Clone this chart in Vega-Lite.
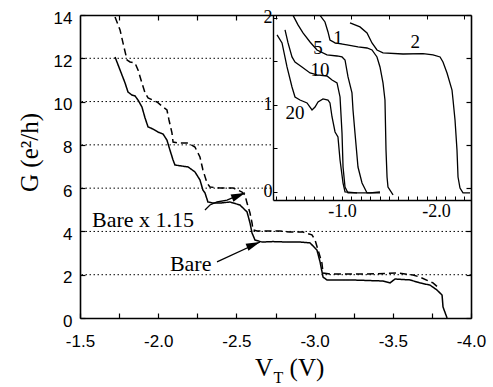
{
  "$schema": "https://vega.github.io/schema/vega-lite/v6.json",
  "width": 391,
  "height": 303,
  "autosize": "none",
  "padding": {"left": 80, "top": 15, "right": 22, "bottom": 69},
  "config": {"view": {"stroke": null}, "axis": {"labelOverlap": false}},
  "datasets": {
    "grid": [{"g": 2}, {"g": 4}, {"g": 6}, {"g": 8}, {"g": 10}, {"g": 12}],
    "main": [
      {"s": "Bare", "vt": -1.724, "g": 12.06},
      {"s": "Bare", "vt": -1.756, "g": 11.46},
      {"s": "Bare", "vt": -1.788, "g": 10.86},
      {"s": "Bare", "vt": -1.807, "g": 10.44},
      {"s": "Bare", "vt": -1.832, "g": 10.30},
      {"s": "Bare", "vt": -1.852, "g": 10.26},
      {"s": "Bare", "vt": -1.871, "g": 10.07},
      {"s": "Bare", "vt": -1.896, "g": 9.75},
      {"s": "Bare", "vt": -1.916, "g": 9.24},
      {"s": "Bare", "vt": -1.935, "g": 8.83},
      {"s": "Bare", "vt": -1.967, "g": 8.73},
      {"s": "Bare", "vt": -1.999, "g": 8.59},
      {"s": "Bare", "vt": -2.031, "g": 8.50},
      {"s": "Bare", "vt": -2.056, "g": 8.22},
      {"s": "Bare", "vt": -2.075, "g": 7.76},
      {"s": "Bare", "vt": -2.095, "g": 7.30},
      {"s": "Bare", "vt": -2.107, "g": 7.07},
      {"s": "Bare", "vt": -2.152, "g": 7.02},
      {"s": "Bare", "vt": -2.191, "g": 6.98},
      {"s": "Bare", "vt": -2.235, "g": 6.75},
      {"s": "Bare", "vt": -2.267, "g": 6.38},
      {"s": "Bare", "vt": -2.286, "g": 5.91},
      {"s": "Bare", "vt": -2.299, "g": 5.78},
      {"s": "Bare", "vt": -2.318, "g": 5.36},
      {"s": "Bare", "vt": -2.350, "g": 5.31},
      {"s": "Bare", "vt": -2.395, "g": 5.31},
      {"s": "Bare", "vt": -2.459, "g": 5.36},
      {"s": "Bare", "vt": -2.523, "g": 5.22},
      {"s": "Bare", "vt": -2.568, "g": 4.90},
      {"s": "Bare", "vt": -2.587, "g": 4.39},
      {"s": "Bare", "vt": -2.600, "g": 3.93},
      {"s": "Bare", "vt": -2.619, "g": 3.60},
      {"s": "Bare", "vt": -2.664, "g": 3.51},
      {"s": "Bare", "vt": -2.734, "g": 3.53},
      {"s": "Bare", "vt": -2.824, "g": 3.51},
      {"s": "Bare", "vt": -2.907, "g": 3.51},
      {"s": "Bare", "vt": -2.971, "g": 3.47},
      {"s": "Bare", "vt": -3.015, "g": 3.14},
      {"s": "Bare", "vt": -3.035, "g": 2.59},
      {"s": "Bare", "vt": -3.054, "g": 1.89},
      {"s": "Bare", "vt": -3.079, "g": 1.76},
      {"s": "Bare", "vt": -3.226, "g": 1.76},
      {"s": "Bare", "vt": -3.437, "g": 1.71},
      {"s": "Bare", "vt": -3.482, "g": 1.62},
      {"s": "Bare", "vt": -3.514, "g": 1.80},
      {"s": "Bare", "vt": -3.610, "g": 1.76},
      {"s": "Bare", "vt": -3.674, "g": 1.62},
      {"s": "Bare", "vt": -3.738, "g": 1.52},
      {"s": "Bare", "vt": -3.783, "g": 1.29},
      {"s": "Bare", "vt": -3.815, "g": 1.06},
      {"s": "Bare", "vt": -3.821, "g": 0.51},
      {"s": "Bare", "vt": -3.847, "g": 0.0},
      {"s": "Bare x 1.15", "vt": -1.724, "g": 13.91},
      {"s": "Bare x 1.15", "vt": -1.756, "g": 13.31},
      {"s": "Bare x 1.15", "vt": -1.781, "g": 12.52},
      {"s": "Bare x 1.15", "vt": -1.801, "g": 11.92},
      {"s": "Bare x 1.15", "vt": -1.820, "g": 11.83},
      {"s": "Bare x 1.15", "vt": -1.852, "g": 11.78},
      {"s": "Bare x 1.15", "vt": -1.871, "g": 11.46},
      {"s": "Bare x 1.15", "vt": -1.896, "g": 10.86},
      {"s": "Bare x 1.15", "vt": -1.916, "g": 10.40},
      {"s": "Bare x 1.15", "vt": -1.935, "g": 10.17},
      {"s": "Bare x 1.15", "vt": -1.992, "g": 9.98},
      {"s": "Bare x 1.15", "vt": -2.031, "g": 9.75},
      {"s": "Bare x 1.15", "vt": -2.056, "g": 9.61},
      {"s": "Bare x 1.15", "vt": -2.069, "g": 9.15},
      {"s": "Bare x 1.15", "vt": -2.088, "g": 8.55},
      {"s": "Bare x 1.15", "vt": -2.095, "g": 8.13},
      {"s": "Bare x 1.15", "vt": -2.127, "g": 8.09},
      {"s": "Bare x 1.15", "vt": -2.191, "g": 8.09},
      {"s": "Bare x 1.15", "vt": -2.235, "g": 7.90},
      {"s": "Bare x 1.15", "vt": -2.267, "g": 7.44},
      {"s": "Bare x 1.15", "vt": -2.286, "g": 6.84},
      {"s": "Bare x 1.15", "vt": -2.312, "g": 6.24},
      {"s": "Bare x 1.15", "vt": -2.331, "g": 6.05},
      {"s": "Bare x 1.15", "vt": -2.395, "g": 6.01},
      {"s": "Bare x 1.15", "vt": -2.478, "g": 6.01},
      {"s": "Bare x 1.15", "vt": -2.536, "g": 5.82},
      {"s": "Bare x 1.15", "vt": -2.555, "g": 5.68},
      {"s": "Bare x 1.15", "vt": -2.568, "g": 5.31},
      {"s": "Bare x 1.15", "vt": -2.587, "g": 4.85},
      {"s": "Bare x 1.15", "vt": -2.600, "g": 4.39},
      {"s": "Bare x 1.15", "vt": -2.606, "g": 4.07},
      {"s": "Bare x 1.15", "vt": -2.632, "g": 4.02},
      {"s": "Bare x 1.15", "vt": -2.715, "g": 4.02},
      {"s": "Bare x 1.15", "vt": -2.779, "g": 4.02},
      {"s": "Bare x 1.15", "vt": -2.843, "g": 3.97},
      {"s": "Bare x 1.15", "vt": -2.926, "g": 3.97},
      {"s": "Bare x 1.15", "vt": -2.983, "g": 3.84},
      {"s": "Bare x 1.15", "vt": -3.003, "g": 3.60},
      {"s": "Bare x 1.15", "vt": -3.022, "g": 3.14},
      {"s": "Bare x 1.15", "vt": -3.047, "g": 2.54},
      {"s": "Bare x 1.15", "vt": -3.054, "g": 2.08},
      {"s": "Bare x 1.15", "vt": -3.098, "g": 2.03},
      {"s": "Bare x 1.15", "vt": -3.335, "g": 2.03},
      {"s": "Bare x 1.15", "vt": -3.527, "g": 2.08},
      {"s": "Bare x 1.15", "vt": -3.629, "g": 1.99},
      {"s": "Bare x 1.15", "vt": -3.674, "g": 1.89},
      {"s": "Bare x 1.15", "vt": -3.757, "g": 1.62},
      {"s": "Bare x 1.15", "vt": -3.802, "g": 1.34}
    ],
    "inset": [
      {"c": "20", "vi": -0.309, "gi": 1.805},
      {"c": "20", "vi": -0.362, "gi": 1.713},
      {"c": "20", "vi": -0.415, "gi": 1.437},
      {"c": "20", "vi": -0.468, "gi": 1.207},
      {"c": "20", "vi": -0.500, "gi": 1.092},
      {"c": "20", "vi": -0.553, "gi": 1.057},
      {"c": "20", "vi": -0.628, "gi": 1.023},
      {"c": "20", "vi": -0.681, "gi": 0.943},
      {"c": "20", "vi": -0.713, "gi": 0.977},
      {"c": "20", "vi": -0.745, "gi": 1.034},
      {"c": "20", "vi": -0.798, "gi": 1.069},
      {"c": "20", "vi": -0.851, "gi": 1.057},
      {"c": "20", "vi": -0.872, "gi": 1.023},
      {"c": "20", "vi": -0.894, "gi": 0.862},
      {"c": "20", "vi": -0.926, "gi": 0.690},
      {"c": "20", "vi": -0.957, "gi": 0.632},
      {"c": "20", "vi": -0.979, "gi": 0.368},
      {"c": "20", "vi": -1.011, "gi": 0.103},
      {"c": "20", "vi": -1.032, "gi": 0.0},
      {"c": "20", "vi": -1.160, "gi": -0.011},
      {"c": "10", "vi": -0.394, "gi": 1.862},
      {"c": "10", "vi": -0.426, "gi": 1.713},
      {"c": "10", "vi": -0.468, "gi": 1.552},
      {"c": "10", "vi": -0.500, "gi": 1.494},
      {"c": "10", "vi": -0.574, "gi": 1.437},
      {"c": "10", "vi": -0.660, "gi": 1.368},
      {"c": "10", "vi": -0.734, "gi": 1.345},
      {"c": "10", "vi": -0.840, "gi": 1.333},
      {"c": "10", "vi": -0.894, "gi": 1.287},
      {"c": "10", "vi": -0.947, "gi": 1.253},
      {"c": "10", "vi": -0.979, "gi": 1.092},
      {"c": "10", "vi": -1.000, "gi": 0.678},
      {"c": "10", "vi": -1.011, "gi": 0.287},
      {"c": "10", "vi": -1.032, "gi": 0.057},
      {"c": "10", "vi": -1.064, "gi": -0.011},
      {"c": "10", "vi": -1.298, "gi": -0.011},
      {"c": "10", "vi": -1.404, "gi": 0.0},
      {"c": "5", "vi": -0.479, "gi": 2.03},
      {"c": "5", "vi": -0.532, "gi": 1.92},
      {"c": "5", "vi": -0.585, "gi": 1.828},
      {"c": "5", "vi": -0.660, "gi": 1.724},
      {"c": "5", "vi": -0.734, "gi": 1.632},
      {"c": "5", "vi": -0.840, "gi": 1.575},
      {"c": "5", "vi": -0.947, "gi": 1.563},
      {"c": "5", "vi": -1.000, "gi": 1.552},
      {"c": "5", "vi": -1.032, "gi": 1.517},
      {"c": "5", "vi": -1.064, "gi": 1.322},
      {"c": "5", "vi": -1.106, "gi": 1.138},
      {"c": "5", "vi": -1.117, "gi": 0.943},
      {"c": "5", "vi": -1.138, "gi": 0.678},
      {"c": "5", "vi": -1.170, "gi": 0.287},
      {"c": "5", "vi": -1.213, "gi": 0.103},
      {"c": "5", "vi": -1.266, "gi": -0.011},
      {"c": "5", "vi": -1.404, "gi": -0.011},
      {"c": "1", "vi": -0.766, "gi": 2.03},
      {"c": "1", "vi": -0.819, "gi": 1.954},
      {"c": "1", "vi": -0.851, "gi": 1.839},
      {"c": "1", "vi": -0.872, "gi": 1.747},
      {"c": "1", "vi": -0.926, "gi": 1.713},
      {"c": "1", "vi": -1.053, "gi": 1.690},
      {"c": "1", "vi": -1.170, "gi": 1.667},
      {"c": "1", "vi": -1.266, "gi": 1.655},
      {"c": "1", "vi": -1.319, "gi": 1.632},
      {"c": "1", "vi": -1.372, "gi": 1.552},
      {"c": "1", "vi": -1.404, "gi": 1.437},
      {"c": "1", "vi": -1.436, "gi": 1.253},
      {"c": "1", "vi": -1.457, "gi": 1.057},
      {"c": "1", "vi": -1.468, "gi": 0.483},
      {"c": "1", "vi": -1.479, "gi": 0.172},
      {"c": "1", "vi": -1.489, "gi": 0.057},
      {"c": "1", "vi": -1.543, "gi": -0.034},
      {"c": "2", "vi": -1.085, "gi": 1.943},
      {"c": "2", "vi": -1.191, "gi": 1.897},
      {"c": "2", "vi": -1.266, "gi": 1.828},
      {"c": "2", "vi": -1.319, "gi": 1.713},
      {"c": "2", "vi": -1.372, "gi": 1.632},
      {"c": "2", "vi": -1.436, "gi": 1.598},
      {"c": "2", "vi": -1.649, "gi": 1.586},
      {"c": "2", "vi": -1.862, "gi": 1.590},
      {"c": "2", "vi": -1.968, "gi": 1.575},
      {"c": "2", "vi": -2.043, "gi": 1.552},
      {"c": "2", "vi": -2.074, "gi": 1.494},
      {"c": "2", "vi": -2.117, "gi": 1.368},
      {"c": "2", "vi": -2.170, "gi": 1.172},
      {"c": "2", "vi": -2.181, "gi": 1.057},
      {"c": "2", "vi": -2.202, "gi": 0.828},
      {"c": "2", "vi": -2.223, "gi": 0.483},
      {"c": "2", "vi": -2.234, "gi": 0.172},
      {"c": "2", "vi": -2.255, "gi": 0.046},
      {"c": "2", "vi": -2.287, "gi": -0.011},
      {"c": "2", "vi": -2.362, "gi": -0.011}
    ],
    "insetlabels": [
      {"t": "1", "vi": -0.957, "gi": 1.77},
      {"t": "5", "vi": -0.745, "gi": 1.66},
      {"t": "10", "vi": -0.766, "gi": 1.40},
      {"t": "20", "vi": -0.5, "gi": 0.91},
      {"t": "2", "vi": -1.78, "gi": 1.72}
    ],
    "arrows": [
      {"a": "Bare x 1.15", "vt": -2.299, "g": 4.99},
      {"a": "Bare x 1.15", "vt": -2.331, "g": 5.22},
      {"a": "Bare x 1.15", "vt": -2.376, "g": 5.36},
      {"a": "Bare x 1.15", "vt": -2.440, "g": 5.45},
      {"a": "Bare x 1.15", "vt": -2.504, "g": 5.64},
      {"a": "Bare x 1.15", "vt": -2.555, "g": 5.78},
      {"a": "Bare", "vt": -2.376, "g": 2.59},
      {"a": "Bare", "vt": -2.651, "g": 3.51}
    ],
    "heads": [
      {"a": "Bare x 1.15", "vt": -2.555, "g": 5.78},
      {"a": "Bare", "vt": -2.651, "g": 3.51}
    ],
    "notes": [
      {"t": "Bare x 1.15", "vt": -1.577, "g": 4.21},
      {"t": "Bare", "vt": -2.075, "g": 2.17}
    ],
    "xtitle": [
      {"t": "V", "vt": -2.619, "g": -2.68},
      {"t": "(V)", "vt": -2.84, "g": -2.68}
    ],
    "xsub": [
      {"t": "T", "vt": -2.737, "g": -3.0}
    ]
  },
  "layer": [
    {
      "layer": [
        {
          "data": {"name": "grid"},
          "mark": {"type": "rule", "color": "black", "strokeWidth": 1, "strokeDash": [1.5, 2.5]},
          "encoding": {
            "y": {
              "field": "g", "type": "quantitative",
              "scale": {"domain": [0, 14], "nice": false, "zero": false},
              "axis": {
                "orient": "left",
                "values": [0, 1, 2, 3, 4, 5, 6, 7, 8, 9, 10, 11, 12, 13, 14],
                "labelExpr": "datum.value % 2 == 0 ? datum.label : ''",
                "tickSize": -5, "tickColor": "black", "tickWidth": 1.2,
                "domainColor": "black", "domainWidth": 1.6,
                "labelFont": "Liberation Sans", "labelFontSize": 17, "labelColor": "black",
                "labelPadding": 13, "labelOffset": 3, "labelBaseline": "middle",
                "labelOverlap": false,
                "grid": false, "zindex": 1,
                "title": "G (e²/h)", "titleFont": "Liberation Serif", "titleFontSize": 25,
                "titleFontWeight": "normal", "titleColor": "black",
                "titleX": -51, "titleY": 137, "titleAngle": -90,
                "titleAlign": "center", "titleBaseline": "middle"
              }
            }
          }
        },
        {
          "data": {"name": "main"},
          "mark": {"type": "line", "color": "black", "strokeWidth": 1.5},
          "encoding": {
            "x": {
              "field": "vt", "type": "quantitative",
              "scale": {"domain": [-4, -1.5], "reverse": true, "nice": false, "zero": false},
              "axis": {
                "orient": "bottom",
                "values": [-1.5, -1.75, -2, -2.25, -2.5, -2.75, -3, -3.25, -3.5, -3.75, -4],
                "labelExpr": "(datum.value * 2) % 1 == 0 ? '-' + format(-datum.value, '.1f') : ''",
                "tickSize": -5, "tickColor": "black", "tickWidth": 1.2,
                "domainColor": "black", "domainWidth": 1.6,
                "labelFont": "Liberation Sans", "labelFontSize": 17, "labelColor": "black",
                "labelPadding": 20, "labelFlush": false, "labelBaseline": "top",
                "labelOverlap": false,
                "grid": false, "zindex": 1, "title": null
              }
            },
            "y": {"field": "g", "type": "quantitative"},
            "strokeDash": {
              "field": "s", "type": "nominal",
              "scale": {"domain": ["Bare", "Bare x 1.15"], "range": [[1, 0], [7, 4]]},
              "legend": null
            }
          }
        }
      ]
    },
    {
      "layer": [
        {
          "data": {"values": [{}]},
          "mark": {"type": "rect", "fill": "white"},
          "encoding": {
            "x": {
              "datum": -0.266, "type": "quantitative",
              "scale": {"domain": [-2.372, -0.266], "range": [391, 193], "nice": false, "zero": false},
              "axis": {
                "orient": "top",
                "values": [-0.3, -0.4, -0.5, -0.6, -0.7, -0.8, -0.9, -1, -1.1, -1.2, -1.3, -1.4, -1.5, -1.6, -1.7, -1.8, -1.9, -2, -2.1, -2.2, -2.3],
                "labels": false, "domain": false,
                "tickSize": -4, "tickColor": "black", "tickWidth": 1,
                "grid": false, "zindex": 1, "title": null
              }
            },
            "x2": {"datum": -2.372},
            "y": {
              "datum": -0.092, "type": "quantitative",
              "scale": {"domain": [-0.092, 2.034], "range": [185, 0], "nice": false, "zero": false},
              "axis": {
                "orient": "left", "offset": -193,
                "values": [0, 0.5, 1, 1.5, 2],
                "labelExpr": "datum.value % 1 == 0 ? format(datum.value, 'd') : ''",
                "tickSize": -4, "tickColor": "black", "tickWidth": 1,
                "domainColor": "black", "domainWidth": 1.4,
                "labelFont": "Liberation Serif", "labelFontSize": 18, "labelColor": "black",
                "labelPadding": 5, "labelFlush": false, "labelBaseline": "middle",
                "labelOverlap": false,
                "grid": false, "zindex": 1, "title": null
              }
            },
            "y2": {"datum": 2.034}
          }
        },
        {
          "data": {"name": "inset"},
          "mark": {"type": "line", "color": "black", "strokeWidth": 1.3},
          "encoding": {
            "x": {"field": "vi", "type": "quantitative"},
            "y": {"field": "gi", "type": "quantitative"},
            "detail": {"field": "c", "type": "nominal"}
          }
        }
      ]
    },
    {
      "layer": [
        {
          "data": {"name": "arrows"},
          "mark": {"type": "line", "color": "black", "strokeWidth": 1.3},
          "encoding": {
            "x": {
              "field": "vt", "type": "quantitative",
              "scale": {"domain": [-4, -1.5], "reverse": true, "nice": false, "zero": false},
              "axis": {
                "orient": "top",
                "values": [-1.75, -2, -2.25, -2.5],
                "labels": false,
                "tickSize": -5, "tickColor": "black", "tickWidth": 1.2,
                "domainColor": "black", "domainWidth": 1.6,
                "grid": false, "zindex": 1, "title": null
              }
            },
            "y": {
              "field": "g", "type": "quantitative",
              "scale": {"domain": [0, 14], "nice": false, "zero": false},
              "axis": {
                "orient": "right",
                "values": [0, 1, 2, 3, 4, 5, 6, 7, 8, 9, 10, 11, 12, 13, 14],
                "labels": false,
                "tickSize": -5, "tickColor": "black", "tickWidth": 1.2,
                "domainColor": "black", "domainWidth": 1.6,
                "grid": false, "zindex": 1, "title": null
              }
            },
            "detail": {"field": "a", "type": "nominal"}
          }
        },
        {
          "data": {"name": "heads"},
          "mark": {"type": "point", "shape": "M0,0L-0.55,2L0.55,2Z", "filled": true, "color": "black", "opacity": 1, "size": 196, "angle": 68},
          "encoding": {
            "x": {"field": "vt", "type": "quantitative"},
            "y": {"field": "g", "type": "quantitative"}
          }
        },
        {
          "data": {"name": "notes"},
          "mark": {"type": "text", "font": "Liberation Serif", "fontSize": 22, "align": "left", "baseline": "alphabetic", "color": "black"},
          "encoding": {
            "x": {"field": "vt", "type": "quantitative"},
            "y": {"field": "g", "type": "quantitative"},
            "text": {"field": "t"}
          }
        },
        {
          "data": {"name": "xtitle"},
          "mark": {"type": "text", "font": "Liberation Serif", "fontSize": 25, "align": "left", "baseline": "alphabetic", "color": "black"},
          "encoding": {
            "x": {"field": "vt", "type": "quantitative"},
            "y": {"field": "g", "type": "quantitative"},
            "text": {"field": "t"}
          }
        },
        {
          "data": {"name": "xsub"},
          "mark": {"type": "text", "font": "Liberation Serif", "fontSize": 16, "align": "left", "baseline": "alphabetic", "color": "black"},
          "encoding": {
            "x": {"field": "vt", "type": "quantitative"},
            "y": {"field": "g", "type": "quantitative"},
            "text": {"field": "t"}
          }
        }
      ]
    },
    {
      "data": {"name": "insetlabels"},
      "mark": {"type": "text", "font": "Liberation Serif", "fontSize": 19, "align": "center", "baseline": "middle", "color": "black"},
      "encoding": {
        "x": {
          "field": "vi", "type": "quantitative",
          "scale": {"domain": [-2.372, -0.266], "range": [391, 193], "nice": false, "zero": false},
          "axis": {
            "orient": "bottom", "offset": -118,
            "values": [-0.3, -0.4, -0.5, -0.6, -0.7, -0.8, -0.9, -1, -1.1, -1.2, -1.3, -1.4, -1.5, -1.6, -1.7, -1.8, -1.9, -2, -2.1, -2.2, -2.3],
            "labelExpr": "datum.value == -1 ? '-1.0' : (datum.value == -2 ? '-2.0' : '')",
            "tickSize": -4, "tickColor": "black", "tickWidth": 1,
            "domainColor": "black", "domainWidth": 1.4,
            "labelFont": "Liberation Serif", "labelFontSize": 18, "labelColor": "black",
            "labelPadding": 6, "labelFlush": false, "labelBaseline": "top",
            "labelOverlap": false,
            "grid": false, "zindex": 1, "title": null
          }
        },
        "y": {
          "field": "gi", "type": "quantitative",
          "scale": {"domain": [-0.092, 2.034], "range": [185, 0], "nice": false, "zero": false},
          "axis": null
        },
        "text": {"field": "t"}
      }
    }
  ],
  "resolve": {"scale": {"x": "independent", "y": "independent"}}
}
